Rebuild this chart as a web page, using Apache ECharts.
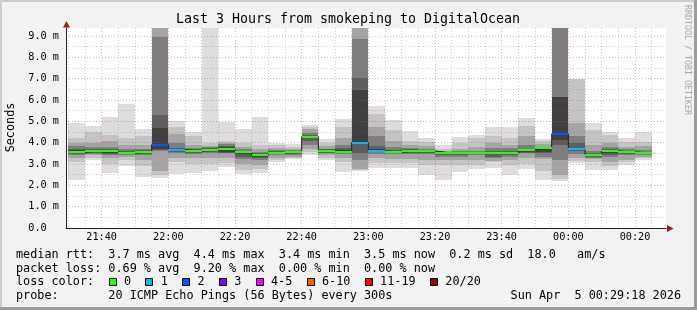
<!DOCTYPE html>
<html><head><meta charset="utf-8">
<script src="https://cdn.jsdelivr.net/npm/echarts@6/dist/echarts.min.js"></script>
<style>html,body{margin:0;padding:0;background:#f2f2f2}#c{width:697px;height:310px}</style>
</head><body><div id="c"></div><script>
// 5-minute slots (start time of each step)
const slotStart = ['21:30','21:35','21:40','21:45','21:50','21:55','22:00','22:05','22:10','22:15','22:20','22:25',
  '22:30','22:35','22:40','22:45','22:50','22:55','23:00','23:05','23:10','23:15','23:20','23:25',
  '23:30','23:35','23:40','23:45','23:50','23:55','00:00','00:05','00:10','00:15','00:20'];
// median rtt, ms
const median = [3.55,3.62,3.62,3.52,3.56,3.91,3.67,3.61,3.66,3.72,3.56,3.41,
  3.52,3.56,4.28,3.61,3.56,4.00,3.62,3.56,3.61,3.61,3.52,3.52,
  3.52,3.52,3.52,3.66,3.75,4.41,3.70,3.44,3.61,3.56,3.52];
// lost pings out of 20
const lossCount = [0,0,0,0,0,2,1,0,0,0,0,0, 0,0,0,0,0,1,1,0,0,0,0,0, 0,0,0,0,0,2,1,0,0,0,0];
// smoke bands, outer to inner: [lo1,hi1, lo2,hi2, lo3,hi3, lo4,hi4, lo5,hi5, lo6,hi6] (ms)
const smoke = [
  [2.25,4.94, 3.10,4.20, 3.30,4.00, 3.40,3.85, 3.45,3.72, 3.50,3.65],
  [3.17,4.80, 3.30,4.50, 3.40,4.00, 3.45,3.80, 3.50,3.70, 3.55,3.66],
  [2.60,5.20, 3.00,4.35, 3.30,4.10, 3.40,3.80, 3.45,3.70, 3.52,3.66],
  [2.90,5.81, 3.20,4.20, 3.35,3.90, 3.40,3.70, 3.45,3.60, 3.48,3.56],
  [2.40,4.66, 2.90,4.30, 3.20,3.90, 3.40,3.72, 3.45,3.65, 3.50,3.60],
  [2.36,Infinity, 2.50,Infinity, 2.65,Infinity, 3.60,8.97, 3.65,5.30, 3.70,4.67],
  [2.52,5.02, 3.10,4.75, 3.30,4.40, 3.50,4.00, 3.55,3.75, 3.60,3.70],
  [2.60,4.52, 3.00,4.30, 3.30,3.90, 3.45,3.75, 3.50,3.70, 3.55,3.66],
  [2.69,9.60, 3.00,4.00, 3.30,3.85, 3.50,3.78, 3.55,3.73, 3.60,3.70],
  [2.84,4.98, 3.05,4.10, 3.30,3.97, 3.50,3.95, 3.52,3.85, 3.55,3.78],
  [2.52,4.66, 2.72,4.00, 3.00,3.82, 3.25,3.70, 3.35,3.62, 3.45,3.60],
  [2.56,5.22, 2.75,3.90, 2.95,3.70, 3.20,3.55, 3.28,3.50, 3.33,3.46],
  [3.11,3.97, 3.20,3.87, 3.30,3.75, 3.40,3.65, 3.45,3.60, 3.48,3.56],
  [3.23,3.94, 3.30,3.80, 3.35,3.70, 3.40,3.64, 3.45,3.60, 3.50,3.58],
  [3.42,4.84, 3.55,4.75, 3.70,4.65, 3.90,4.45, 4.10,4.38, 4.20,4.33],
  [3.19,4.19, 3.30,4.00, 3.40,3.85, 3.50,3.72, 3.53,3.68, 3.56,3.65],
  [2.61,5.09, 3.10,4.75, 3.30,4.20, 3.45,3.90, 3.50,3.75, 3.53,3.65],
  [2.67,Infinity, 2.70,Infinity, 2.75,Infinity, 3.20,8.85, 3.50,7.02, 3.95,6.47],
  [2.83,5.70, 3.05,5.35, 3.30,4.75, 3.45,4.30, 3.55,3.85, 3.58,3.68],
  [2.83,5.04, 3.05,4.60, 3.25,4.10, 3.45,3.82, 3.50,3.65, 3.53,3.60],
  [2.80,4.53, 3.05,4.10, 3.25,3.90, 3.45,3.75, 3.50,3.68, 3.56,3.65],
  [2.50,4.20, 2.95,4.03, 3.20,3.85, 3.45,3.72, 3.50,3.66, 3.55,3.64],
  [2.25,3.91, 2.95,3.72, 3.20,3.60, 3.35,3.56, 3.43,3.55, 3.48,3.55],
  [2.63,4.27, 2.95,4.00, 3.20,3.72, 3.35,3.60, 3.43,3.56, 3.48,3.55],
  [2.78,4.35, 2.95,4.20, 3.20,3.80, 3.40,3.63, 3.45,3.57, 3.48,3.55],
  [2.80,4.75, 3.10,4.30, 3.15,4.00, 3.30,3.75, 3.35,3.60, 3.45,3.56],
  [2.50,4.75, 2.95,4.20, 3.20,3.90, 3.35,3.75, 3.43,3.60, 3.48,3.56],
  [2.77,5.15, 3.00,4.80, 3.30,4.30, 3.50,3.90, 3.52,3.72, 3.55,3.68],
  [2.25,4.17, 2.65,4.10, 3.25,3.95, 3.35,3.82, 3.50,3.80, 3.55,3.77],
  [2.20,Infinity, 2.30,Infinity, 2.48,Infinity, 3.19,Infinity, 3.89,6.16, 4.13,6.16],
  [3.06,6.98, 3.15,6.98, 3.30,4.90, 3.45,4.30, 3.60,4.00, 3.65,3.75],
  [2.72,4.92, 3.10,4.60, 3.25,3.90, 3.30,3.60, 3.35,3.50, 3.38,3.47],
  [2.72,4.50, 2.90,4.35, 3.10,4.00, 3.35,3.80, 3.40,3.70, 3.50,3.65],
  [2.93,4.23, 3.10,4.05, 3.20,3.82, 3.40,3.68, 3.45,3.62, 3.50,3.60],
  [3.20,4.50, 3.30,4.05, 3.35,3.85, 3.42,3.65, 3.46,3.58, 3.48,3.55]
];
const lossLabels = ['0','1','2','3','4-5','6-10','11-19','20/20'];
const lossColors = ['#26ff00','#00b8ff','#0059ff','#7e00ff','#ff00ff','#ff5e00','#ff0000','#a10000'];
const bandColors = ['#dddddd','#c4c4c4','#a4a4a4','#7e7e7e','#5e5e5e','#404040'];
const titleText = 'Last 3 Hours from smokeping to DigitalOcean';
const legendRtt = 'median rtt:  3.7 ms avg  4.4 ms max  3.4 ms min  3.5 ms now  0.2 ms sd  18.0   am/s';
const legendLoss = 'packet loss: 0.69 % avg  9.20 % max  0.00 % min  0.00 % now';
const legendProbe = 'probe:       20 ICMP Echo Pings (56 Bytes) every 300s';
const stampText = 'Sun Apr  5 00:29:18 2026';

const FONT = '"DejaVu Sans Mono", monospace';
const T0 = 29.3, T1 = 209.3, STEP = 5, YMAX = 9.375;
function toMin(s){ let [h,m] = s.split(':').map(Number); if (h < 21) h += 24; return (h-21)*60 + m; }
function fmtMin(v){ const t = Math.round(v); const h = (21 + Math.floor(t/60)) % 24; const m = t % 60;
  return String(h).padStart(2,'0') + ':' + String(m).padStart(2,'0'); }
function lossIdx(n){ if (n <= 3) return n; if (n <= 5) return 4; if (n <= 10) return 5; if (n < 20) return 6; return 7; }

const barData = slotStart.map((t,i) => [toMin(t), median[i]]);
const stepData = barData.concat([[toMin(slotStart[slotStart.length-1]) + STEP, median[median.length-1]]]);

const chart = echarts.init(document.getElementById('c'), null, {renderer:'canvas'});

const graphics = [
  {type:'rect', shape:{x:0,y:0,width:697,height:2}, style:{fill:'#cdcdcd'}, silent:true},
  {type:'rect', shape:{x:0,y:0,width:2,height:310}, style:{fill:'#cdcdcd'}, silent:true},
  {type:'rect', shape:{x:0,y:307,width:697,height:3}, style:{fill:'#9c9c9c'}, silent:true},
  {type:'rect', shape:{x:694,y:0,width:3,height:310}, style:{fill:'#9c9c9c'}, silent:true},
  {type:'text', x:348, y:19.5, style:{text:titleText, font:'13.3px '+FONT, fill:'#000', align:'center', verticalAlign:'middle'}},
  {type:'text', x:11, y:127.5, rotation:Math.PI/2, style:{text:'Seconds', font:'11.8px '+FONT, fill:'#000', align:'center', verticalAlign:'middle'}},
  {type:'text', x:687, y:60, rotation:-Math.PI/2, style:{text:'RRDTOOL / TOBI OETIKER', font:'8.3px '+FONT, fill:'#aaaaaa', align:'center', verticalAlign:'middle'}},
  {type:'polygon', shape:{points:[[66.5,21],[63,27.5],[70,27.5]]}, style:{fill:'#9b1c1c'}},
  {type:'polygon', shape:{points:[[673.5,228.5],[667,225],[667,232]]}, style:{fill:'#9b1c1c'}},
  {type:'text', x:16, y:255, style:{text:legendRtt, font:'11.8px '+FONT, fill:'#000', verticalAlign:'middle'}},
  {type:'text', x:16, y:268.5, style:{text:legendLoss, font:'11.8px '+FONT, fill:'#000', verticalAlign:'middle'}},
  {type:'text', x:16, y:282.3, style:{text:'loss color:', font:'11.8px '+FONT, fill:'#000', verticalAlign:'middle'}},
  {type:'text', x:16, y:296, style:{text:legendProbe, font:'11.8px '+FONT, fill:'#000', verticalAlign:'middle'}},
  {type:'text', x:681, y:296, style:{text:stampText, font:'11.8px '+FONT, fill:'#000', align:'right', verticalAlign:'middle'}}
];
const CW = 7.12;
let bx = 16 + 13*CW;
lossLabels.forEach((lab, k) => {
  graphics.push({type:'rect', shape:{x:Math.round(bx)+0.5, y:278.5, width:7, height:7}, style:{fill:lossColors[k], stroke:'#000', lineWidth:1}});
  graphics.push({type:'text', x:bx+15.4, y:282.3, style:{text:lab, font:'11.8px '+FONT, fill:'#000', verticalAlign:'middle'}});
  bx = bx + 15.4 + (lab.length + 2)*CW;
});

const majorGrid = {color:'rgba(225,70,70,0.45)', type:[1,2], width:1};
const minorGrid = {color:'rgba(110,110,110,0.33)', type:[1,2], width:1};

chart.setOption({
  animation:false,
  backgroundColor:'#f2f2f2',
  grid:{left:66, top:28, width:600, height:200, show:true, backgroundColor:'#ffffff', borderWidth:0},
  xAxis:{type:'value', min:T0, max:T1, splitNumber:9, minInterval:20, maxInterval:20, z:10,
    axisLine:{show:true, onZero:false, lineStyle:{color:'#222', width:1}},
    axisTick:{show:false},
    axisLabel:{formatter:fmtMin, fontFamily:'DejaVu Sans Mono', fontSize:10.2, color:'#000', margin:4, showMinLabel:false, showMaxLabel:false},
    splitLine:{show:true, showMinLine:false, showMaxLine:false, lineStyle:majorGrid},
    minorTick:{show:false, splitNumber:4},
    minorSplitLine:{show:true, lineStyle:minorGrid}},
  yAxis:{type:'value', min:0, max:YMAX, interval:1, z:10,
    axisLine:{show:true, lineStyle:{color:'#222', width:1}},
    axisTick:{show:false},
    axisLabel:{formatter:v => v === 0 ? '0.0  ' : v.toFixed(1) + ' m', fontFamily:'DejaVu Sans Mono', fontSize:10.2, color:'#000', margin:7, showMaxLabel:false},
    splitLine:{show:true, showMinLine:false, showMaxLine:false, lineStyle:majorGrid},
    minorTick:{show:false, splitNumber:2},
    minorSplitLine:{show:true, lineStyle:minorGrid}},
  graphic:graphics,
  series:[
    {type:'custom', z:2, clip:true, data:barData, encode:{x:0, y:1}, silent:true,
     renderItem:function(params, api){
       const i = params.dataIndex, s = api.value(0);
       const xa = Math.round(api.coord([s,0])[0]), xb = Math.round(api.coord([s+STEP,0])[0]);
       const row = smoke[i], children = [];
       for (let k = 0; k < 6; k++){
         const lo = row[2*k], hi = Math.min(row[2*k+1], YMAX);
         const ya = Math.round(api.coord([s,hi])[1]), yb = Math.round(api.coord([s,lo])[1]);
         children.push({type:'rect', shape:{x:xa, y:ya, width:xb-xa, height:yb-ya}, style:{fill:bandColors[k]}});
       }
       return {type:'group', children:children};
     }},
    {type:'line', step:'end', z:11, symbol:'none', data:stepData, silent:true,
     lineStyle:{color:'#202020', width:1}},
    {type:'custom', z:12, clip:true, data:barData, encode:{x:0, y:1}, silent:true,
     renderItem:function(params, api){
       const i = params.dataIndex, s = api.value(0);
       const xa = Math.round(api.coord([s,0])[0]), xb = Math.round(api.coord([s+STEP,0])[0]);
       const y = Math.round(api.coord([s, api.value(1)])[1]);
       return {type:'rect', shape:{x:xa, y:y-1, width:xb-xa, height:2}, style:{fill:lossColors[lossIdx(lossCount[i])]}};
     }}
  ]
});
</script></body></html>
